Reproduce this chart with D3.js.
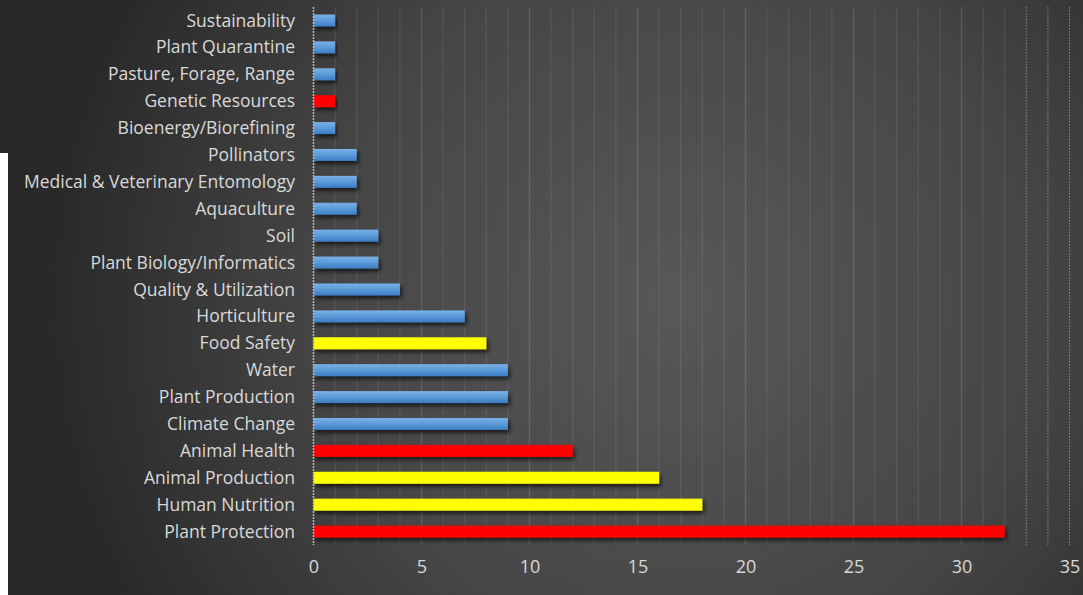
<!DOCTYPE html>
<html><head><meta charset="utf-8">
<script src="https://cdn.jsdelivr.net/npm/d3@7"></script>
<style>html,body{margin:0;padding:0;background:#fff;overflow:hidden}</style>
</head><body>
<svg id="c" width="1083" height="595"></svg>
<script>
const categories = ["Sustainability","Plant Quarantine","Pasture, Forage, Range","Genetic Resources","Bioenergy/Biorefining","Pollinators","Medical & Veterinary Entomology","Aquaculture","Soil","Plant Biology/Informatics","Quality & Utilization","Horticulture","Food Safety","Water","Plant Production","Climate Change","Animal Health","Animal Production","Human Nutrition","Plant Protection"];
const values = [1,1,1,1,1,2,2,2,3,3,4,7,8,9,9,9,12,16,18,32];
const colorGroup = ["b","b","b","r","b","b","b","b","b","b","b","b","y","b","b","b","r","y","y","r"];
const tickValues = [0,5,10,15,20,25,30,35];

const W = 1083, H = 595;
const svg = d3.select("#c");
const defs = svg.append("defs");
const bg = defs.append("radialGradient").attr("id","bg").attr("gradientUnits","userSpaceOnUse")
  .attr("cx",680).attr("cy",300).attr("r",640);
bg.append("stop").attr("offset","0").attr("stop-color","#585858");
bg.append("stop").attr("offset","0.55").attr("stop-color","#464646");
bg.append("stop").attr("offset","1").attr("stop-color","#282828");
const bl = defs.append("linearGradient").attr("id","blue").attr("x1",0).attr("y1",0).attr("x2",0).attr("y2",1);
bl.append("stop").attr("offset","0").attr("stop-color","#7ab0e6");
bl.append("stop").attr("offset","0.5").attr("stop-color","#5b9bd8");
bl.append("stop").attr("offset","1").attr("stop-color","#3c7cc2");
const sh = defs.append("filter").attr("id","sh").attr("x","-5%").attr("y","-50%").attr("width","115%").attr("height","250%");
sh.append("feDropShadow").attr("dx",2).attr("dy",3).attr("stdDeviation",2).attr("flood-color","#000").attr("flood-opacity",0.65);

svg.append("rect").attr("width",W).attr("height",H).attr("fill","url(#bg)");
svg.append("rect").attr("x",0).attr("y",153).attr("width",8).attr("height",H-153).attr("fill","#fff");

const x = d3.scaleLinear().domain([0,35]).range([313.5,1069.5]);
const y = d3.scaleBand().domain(categories).range([7,545]).paddingInner(0.555).paddingOuter(0.2775);

const grid = svg.append("g");
d3.range(1,36).forEach(v=>{
  const dotted = v>32;
  grid.append("line").attr("x1",x(v)).attr("x2",x(v)).attr("y1",7).attr("y2",545)
    .attr("stroke", dotted ? "#8a8a8a" : (v%5===0 ? "rgba(255,255,255,0.13)" : "rgba(255,255,255,0.07)"))
    .attr("stroke-width", dotted?1:1.5)
    .attr("stroke-dasharray", dotted ? "1.5,1.5" : null);
});

const fill = g => g==="r" ? "#ff0000" : g==="y" ? "#ffff00" : "url(#blue)";
svg.append("g").selectAll("rect").data(categories).join("rect")
  .attr("x",x(0)).attr("y",d=>y(d)).attr("height",y.bandwidth())
  .attr("width",(d,i)=>x(values[i])-x(0))
  .attr("fill",(d,i)=>fill(colorGroup[i]))
  .attr("filter","url(#sh)");

svg.append("line").attr("x1",x(0)).attr("x2",x(0)).attr("y1",7).attr("y2",545)
  .attr("stroke","#bbb").attr("stroke-width",1.5).attr("stroke-dasharray","2,1");

const font = "'Open Sans', Lato, sans-serif";
svg.append("g").selectAll("text").data(categories).join("text")
  .attr("x",295).attr("y",d=>y(d)+y.bandwidth()/2).attr("dy","0.35em")
  .attr("text-anchor","end").attr("fill","#d9d9d9").attr("font-family",font).attr("font-size",17.5)
  .text(d=>d);

const xa = svg.append("g").attr("transform","translate(0,567)")
  .call(d3.axisBottom(x).tickValues(tickValues).tickSize(0).tickPadding(0));
xa.select(".domain").remove();
xa.selectAll("text").attr("fill","#d9d9d9").attr("font-family",font).attr("font-size",18).attr("dy","0.35em");
</script>
</body></html>
